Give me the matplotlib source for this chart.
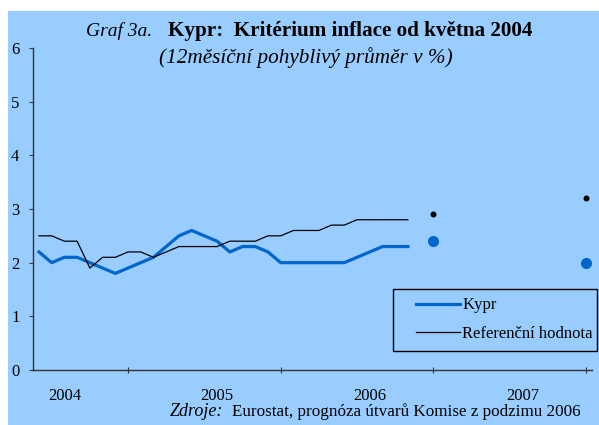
import matplotlib
matplotlib.use("Agg")
import matplotlib.pyplot as plt
from matplotlib.patches import Rectangle
from matplotlib.lines import Line2D

# Data: monthly values May 2004 - Oct 2006 (plotted at month end)
months = list(range(5, 35))
kypr = [2.2, 2.0, 2.1, 2.1, 2.0, 1.9, 1.8, 1.9, 2.0, 2.1, 2.3, 2.5, 2.6, 2.5, 2.4,
        2.2, 2.3, 2.3, 2.2, 2.0, 2.0, 2.0, 2.0, 2.0, 2.0, 2.1, 2.2, 2.3, 2.3, 2.3]
referencni = [2.5, 2.5, 2.4, 2.4, 1.9, 2.1, 2.1, 2.2, 2.2, 2.1, 2.2, 2.3, 2.3, 2.3, 2.3,
              2.4, 2.4, 2.4, 2.5, 2.5, 2.6, 2.6, 2.6, 2.7, 2.7, 2.8, 2.8, 2.8, 2.8, 2.8]
forecast_x = [36, 48]
kypr_forecast = [2.4, 2.0]
ref_forecast = [2.9, 3.2]
year_ticks = [12, 24, 36, 48]
year_label_pos = [7, 19, 31, 43]
year_labels = ["2004", "2005", "2006", "2007"]
yticks = [0, 1, 2, 3, 4, 5, 6]

BG = "#99CCFF"
BLUE = "#0066CC"
W, H = 599, 425
SERIF = "Liberation Serif"
plt.rcParams["font.family"] = [SERIF, "DejaVu Serif"]

fig = plt.figure(figsize=(W / 100, H / 100), dpi=100)
fig.patch.set_facecolor("white")
fig.patches.append(Rectangle((8 / W, 0), 1 - 8 / W, 1 - 11 / H, transform=fig.transFigure,
                             facecolor=BG, edgecolor="none", zorder=-5))

def px(x, y):
    return x / W, 1 - y / H

l, b = px(32.6, 370)
r, t = px(592.4, 48)
ax = fig.add_axes([l, b, r - l, t - b])
ax.set_zorder(2)
ax.set_facecolor("none")
ax.set_xlim(4.5, 48.5)
ax.set_ylim(0, 6)

ax.plot(months, kypr, color=BLUE, lw=2.3, zorder=3)
ax.plot(months, referencni, color="black", lw=0.9, zorder=4)
ax.plot(forecast_x, kypr_forecast, "o", color=BLUE, ms=8, mew=0, zorder=5, clip_on=False)
ax.plot(forecast_x, ref_forecast, "o", color="black", ms=4.3, mew=0, zorder=5, clip_on=False)

for s in ["top", "right"]:
    ax.spines[s].set_visible(False)
for s in ["left", "bottom"]:
    ax.spines[s].set_color("#333333")
    ax.spines[s].set_linewidth(1.0)

ax.set_yticks(yticks)
ax.set_yticklabels([str(v) for v in yticks])
ax.tick_params(axis="y", direction="out", length=3, width=0.8, color="#333333",
               labelsize=12, pad=6.5)
ax.set_xticks(year_ticks)
ax.set_xticklabels([])
ax.tick_params(axis="x", which="major", direction="inout", length=5, width=0.8, color="#333333")
ax.set_xticks(year_label_pos, minor=True)
ax.set_xticklabels(year_labels, minor=True)
ax.tick_params(axis="x", which="minor", length=0, labelsize=12, pad=13)

# Title
x1, y1 = px(152, 36)
fig.text(x1, y1, "Graf 3a.", ha="right", va="baseline", fontsize=14, style="italic")
x2, _ = px(168, 36)
fig.text(x2, y1, "Kypr:  Kritérium inflace od května 2004", ha="left", va="baseline",
         fontsize=15.2, weight="bold")
x3, y3 = px(306, 63)
fig.text(x3, y3, "(12měsíční pohyblivý průměr v %)", ha="center", va="baseline",
         fontsize=15.3, style="italic")

# Source
xs, ys = px(223, 416)
fig.text(xs, ys, "Zdroje:", ha="right", va="baseline", fontsize=13, style="italic")
xs2, _ = px(232, 416)
fig.text(xs2, ys, "Eurostat, prognóza útvarů Komise z podzimu 2006", ha="left",
         va="baseline", fontsize=12.3)

# Legend
lx, ly = px(393, 351)
rx, ry = px(597, 289)
fig.patches.append(Rectangle((lx, ly), rx - lx, ry - ly, transform=fig.transFigure,
                             facecolor=BG, edgecolor="black", lw=1.0, zorder=6))
handles = [Line2D([], [], color=BLUE, lw=2.3), Line2D([], [], color="black", lw=0.9)]
lx0, ly0 = px(403, 284)
leg = fig.legend(handles, ["Kypr", "Referenční hodnota"], loc="upper left",
                 bbox_to_anchor=(lx0, ly0), frameon=False, fontsize=12,
                 handlelength=2.6, handletextpad=0.15, labelspacing=0.75,
                 borderpad=0.3)
leg.set_zorder(7)

fig.savefig("out.png", dpi=100, facecolor="white")
